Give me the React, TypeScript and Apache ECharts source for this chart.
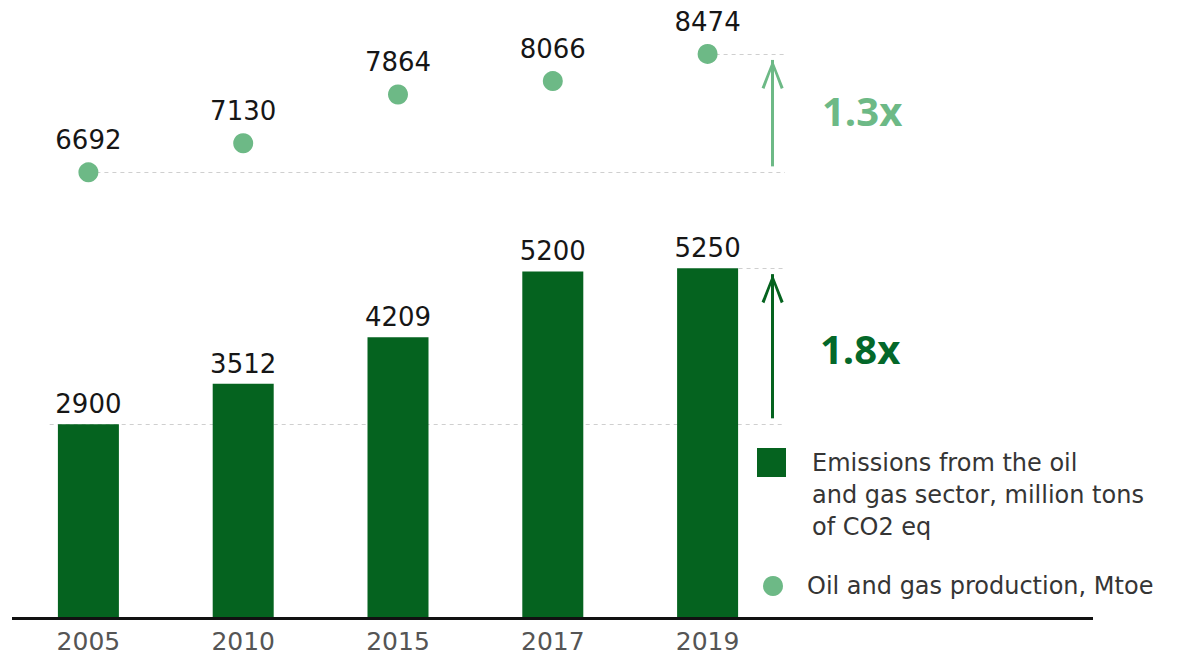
import React, { useEffect, useRef } from "react";
import * as echarts from "echarts";

// Years on the category axis
const years = ["2005", "2010", "2015", "2017", "2019"];
// Emissions from the oil and gas sector, million tons of CO2 eq
const emissions = [2900, 3512, 4209, 5200, 5250];
// Oil and gas production, Mtoe
const production = [6692, 7130, 7864, 8066, 8474];

const emissionsName = "Emissions from the oil\nand gas sector, million tons\nof CO2 eq";
const productionName = "Oil and gas production, Mtoe";

const DARK = "#05631f";
const LIGHT = "#6db986";
const GUIDE = "#cfcfcf";

const W = 1180;
const H = 654;
const GRID_LEFT = 11;
const GRID_RIGHT = 395;
const GRID_TOP = 19;
const GRID_BOTTOM = 37;
const Y_MAX = 9000;

// positions along the band axis, in category-index units
const GUIDE_END = 4.5;
const ARROW_X = 4.42;
const ARROW_GAP = 90;

const chevron = "path://M11,0 L22,28 L19.2,29.3 L11,6.8 L2.8,29.3 L0,28 Z";

const ratio = (a: number[]) => (a[a.length - 1] / a[0]).toFixed(1) + "x";

export default function App() {
  const ref = useRef<HTMLDivElement>(null);

  useEffect(() => {
    if (!ref.current) return;
    const chart = echarts.init(ref.current, undefined, { renderer: "svg" });
    const last = years.length - 1;
    const baseY = H - GRID_BOTTOM + 1.5;

    const guide = (x0: number, v: number) => [
      { coord: [x0, v] },
      { coord: [GUIDE_END, v] },
    ];
    const arrow = (from: number, to: number, color: string) => [
      { coord: [ARROW_X, from + ARROW_GAP], lineStyle: { color }, symbol: "none" },
      {
        coord: [ARROW_X, to - ARROW_GAP],
        symbol: chevron,
        symbolSize: [22, 29],
        symbolOffset: [0, 14.5],
        itemStyle: { color },
      },
    ];

    const valueLabel = {
      show: true,
      position: "top",
      color: "#161616",
      fontSize: 26,
      fontFamily: "DejaVu Sans",
    };

    chart.setOption({
      animation: false,
      grid: { left: GRID_LEFT, right: GRID_RIGHT, top: GRID_TOP, bottom: GRID_BOTTOM },
      xAxis: [
        {
          type: "category",
          data: years,
          axisLine: { show: false },
          axisTick: { show: false },
          axisLabel: {
            margin: 14,
            color: "#555",
            fontSize: 25,
            lineHeight: 20,
            fontFamily: "DejaVu Sans",
          },
        },
        {
          type: "value",
          min: -0.5,
          max: years.length - 0.5,
          show: false,
        },
      ],
      yAxis: { type: "value", min: 0, max: Y_MAX, show: false },
      series: [
        {
          name: emissionsName,
          type: "bar",
          data: emissions,
          barWidth: 61,
          itemStyle: { color: DARK },
          label: { ...valueLabel, distance: 7 },
          silent: true,
          z: 3,
        },
        {
          name: productionName,
          type: "scatter",
          data: production,
          symbolSize: 20,
          itemStyle: { color: LIGHT, opacity: 1 },
          label: { ...valueLabel, distance: 9 },
          silent: true,
          z: 3,
        },
        {
          name: "guides",
          type: "line",
          xAxisIndex: 1,
          data: [],
          silent: true,
          z: 1,
          markLine: {
            silent: true,
            z: 1,
            symbol: "none",
            label: { show: false },
            lineStyle: { color: GUIDE, type: [4, 4], width: 1 },
            data: [
              guide(-0.25, emissions[0]),
              guide(last + 0.2, emissions[last]),
              guide(0, production[0]),
              guide(last, production[last]),
            ],
          },
        },
        {
          name: "growth",
          type: "line",
          xAxisIndex: 1,
          data: [],
          silent: true,
          z: 2,
          markLine: {
            silent: true,
            z: 4,
            symbol: ["none", chevron],
            label: { show: false },
            lineStyle: { width: 3, type: "solid" },
            data: [
              arrow(production[0], production[last], LIGHT),
              arrow(emissions[0], emissions[last], DARK),
            ],
          },
        },
      ],
      graphic: [
        {
          type: "line",
          shape: { x1: 12, y1: baseY, x2: 1093, y2: baseY },
          style: { stroke: "#111", lineWidth: 3 },
          z: 10,
        },
        {
          type: "text",
          x: 822,
          y: 110,
          style: {
            text: ratio(production),
            fill: LIGHT,
            fontSize: 40,
            fontWeight: "bold",
            fontFamily: "Open Sans",
            verticalAlign: "middle",
          },
        },
        {
          type: "text",
          x: 820,
          y: 348,
          style: {
            text: ratio(emissions),
            fill: "#04682a",
            fontSize: 40,
            fontWeight: "bold",
            fontFamily: "Open Sans",
            verticalAlign: "middle",
          },
        },
        // legend
        {
          type: "rect",
          shape: { x: 757, y: 448, width: 29, height: 29 },
          style: { fill: DARK },
        },
        {
          type: "text",
          x: 812,
          y: 447,
          style: {
            text: emissionsName,
            fill: "#353535",
            fontSize: 24,
            lineHeight: 32,
            fontFamily: "DejaVu Sans",
            verticalAlign: "top",
          },
        },
        {
          type: "circle",
          shape: { cx: 773, cy: 586, r: 10 },
          style: { fill: LIGHT },
        },
        {
          type: "text",
          x: 807,
          y: 586,
          style: {
            text: productionName,
            fill: "#353535",
            fontSize: 24,
            fontFamily: "DejaVu Sans",
            verticalAlign: "middle",
          },
        },
      ],
    });

    return () => chart.dispose();
  }, []);

  return (
    <div
      ref={ref}
      style={{ position: "fixed", left: 0, top: 0, width: W, height: H, background: "#fff" }}
    />
  );
}
